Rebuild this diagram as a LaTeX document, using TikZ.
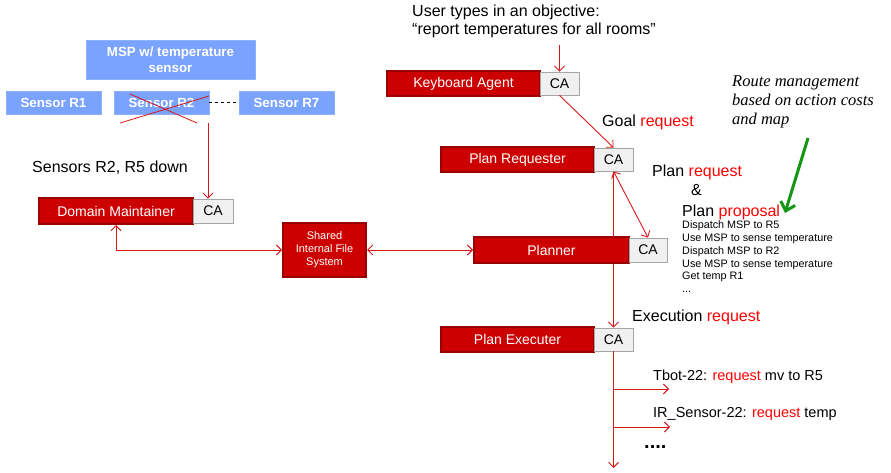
\documentclass[tikz,border=0pt]{standalone}
\usepackage{fontspec}
\setmainfont{Liberation Sans}
\newfontfamily\handfont{Liberation Serif}
\usetikzlibrary{arrows.meta,backgrounds}
\definecolor{boxred}{RGB}{204,0,0}
\definecolor{boxdark}{RGB}{153,0,0}
\definecolor{cafill}{RGB}{240,240,240}
\definecolor{caline}{RGB}{166,166,166}
\definecolor{blu}{RGB}{122,163,255}
\definecolor{conred}{RGB}{214,24,24}
\definecolor{txtred}{RGB}{255,0,0}
\definecolor{grn}{RGB}{20,150,20}
\newcommand{\fsz}[2]{\fontsize{#1}{#2}\selectfont}
\newcommand{\reqw}{\textcolor{txtred}{request}}
\begin{document}
\begin{tikzpicture}[x=1pt,y=-1pt,
  redbox/.style={draw=boxdark,fill=boxred,line width=2pt,text=white,font=\fsz{14}{16},inner sep=0pt},
  cabox/.style={draw=caline,fill=cafill,line width=0.8pt,font=\fsz{14}{16},inner sep=0pt,minimum width=39pt,minimum height=23pt},
  bluebox/.style={fill=blu,draw=blu!85!white,line width=0.6pt,text=white,font=\bfseries\fsz{13.3}{16},inner sep=0pt,align=center},
  conn/.style={draw=conred,line width=0.9pt},
  tip/.style={-{Straight Barb[length=5pt,width=10pt]}},
  dtip/.style={{Straight Barb[length=5pt,width=10pt]}-{Straight Barb[length=5pt,width=10pt]}},
  lbl/.style={inner sep=0pt,anchor=base west,font=\fsz{16}{18}},
  mid/.style={inner sep=0pt,anchor=base west,font=\fsz{14.5}{17}},
  small/.style={inner sep=0pt,anchor=base west,font=\fsz{10.8}{12.6}},
  hand/.style={inner sep=0pt,anchor=base west,font=\handfont\itshape\fsz{16.5}{19}}
]
\useasboundingbox (0,0) rectangle (891,473);

% sensors
\node[bluebox,minimum width=169pt,minimum height=39pt] (msp) at (170.5,59.5) {MSP w/ temperature\\sensor};
\node[bluebox,minimum width=95pt,minimum height=23pt] (r1) at (53.5,102.5) {Sensor R1};
\node[bluebox,minimum width=95pt,minimum height=23pt] (r2) at (161.5,102.5) {Sensor R2};
\node[bluebox,minimum width=95pt,minimum height=23pt] (r7) at (286.5,102.5) {Sensor R7};
\draw[dashed,dash pattern=on 3pt off 3pt,line width=0.8pt] (r2.east) -- (r7.west);
\draw[conn,line width=0.8pt] (120,123) -- (209,96);
\draw[conn,line width=0.8pt] (130,94) -- (197,123);

% agents
\node[redbox,minimum width=153pt,minimum height=25pt] (ka) at (463.5,83.5) {Keyboard Agent};
\node[cabox] (kaca) at (559.5,83.5) {CA};
\node[redbox,minimum width=153pt,minimum height=25pt] (pr) at (517.5,159.5) {Plan Requester};
\node[cabox] (prca) at (613.5,159.5) {CA};
\node[redbox,minimum width=155pt,minimum height=26pt] (pl) at (551.5,250) {Planner};
\node[cabox,minimum width=38pt,minimum height=24pt] (plca) at (648,250) {CA};
\node[redbox,minimum width=153pt,minimum height=25pt] (pe) at (517.5,339.5) {Plan Executer};
\node[cabox] (peca) at (613.5,339.5) {CA};
\node[redbox,minimum width=154pt,minimum height=26pt] (dm) at (116,211) {Domain Maintainer};
\node[cabox,minimum width=40pt,minimum height=24pt] (dmca) at (213,211) {CA};
\node[redbox,minimum width=83pt,minimum height=54pt,align=center,font=\fsz{11}{13}] (fs) at (324.5,250) {Shared\\Internal File\\System};

% coordinates
\coordinate (s2) at (208,123);
\coordinate (ut) at (559.5,45);
\coordinate (b1) at (613.5,389);
\coordinate (b1e) at (669,389);
\coordinate (b2) at (613.5,427);
\coordinate (b2e) at (670,427);
\coordinate (vend) at (613.5,468);
\coordinate (gs) at (808,138);
\coordinate (ge) at (785,213);

% connectors
\begin{scope}[on background layer]
\draw[conn,tip] (prca.south) -- (peca.north);
\end{scope}
\draw[conn,tip] (s2) -- (s2 |- dmca.north);
\draw[conn,tip] (ut) -- (kaca.north);
\draw[conn,tip] (kaca.south) -- (prca.north);
\draw[conn,dtip] (prca.south) -- (plca.north);
\draw[conn,tip] (peca.south) -- (vend);
\draw[conn,tip] (b1) -- (b1e);
\draw[conn,tip] (b2) -- (b2e);
\draw[conn,dtip] (dm.south) |- (fs.west);
\draw[conn,dtip] (fs.east) -- (pl.west);
\draw[draw=grn,line width=3pt,-{Straight Barb[length=8pt,width=15pt]}] (gs) -- (ge);

% texts
\node[lbl] (ut1) at (412,17) {User types in an objective:};
\node[lbl] (ut2) at (412,35) {“report temperatures for all rooms”};
\node[lbl] (sd) at (32,173) {Sensors R2, R5 down};
\node[lbl] (gr) at (602,127) {Goal \reqw};
\node[lbl] (prq) at (652,177) {Plan \reqw};
\node[lbl] (amp) at (691,196) {\&};
\node[lbl] (pp) at (682,216.7) {Plan \textcolor{txtred}{proposal}};
\node[small] (l1) at (682,229) {Dispatch MSP to R5};
\node[small] (l2) at (682,241.7) {Use MSP to sense temperature};
\node[small] (l3) at (682,254.4) {Dispatch MSP to R2};
\node[small] (l4) at (682,267) {Use MSP to sense temperature};
\node[small] (l5) at (682,279.7) {Get temp R1};
\node[small] (l6) at (682,292.4) {...};
\node[lbl] (ex) at (632,321) {Execution \reqw};
\node[mid] (tb) at (653,380) {Tbot-22: \reqw{} mv to R5};
\node[mid] (ir) at (653,417.7) {IR\_Sensor-22: \reqw{} temp};
\node[lbl,font=\bfseries\fsz{20}{20}] (dots) at (644,448) {....};
\node[hand] (h1) at (732,87) {Route management};
\node[hand] (h2) at (732,106) {based on action costs};
\node[hand] (h3) at (732,125) {and map};
\end{tikzpicture}
\end{document}
